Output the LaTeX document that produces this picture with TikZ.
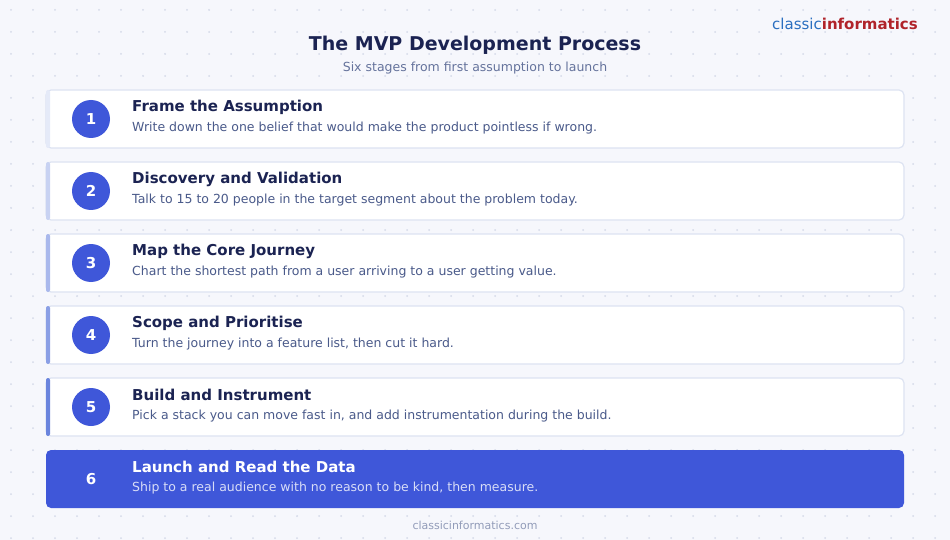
\documentclass[tikz,border=0pt]{standalone}
\usepackage{fontspec}
\setmainfont{DejaVu Sans}
\begin{document}
\begin{tikzpicture}[x=1pt,y=-1pt,
  card/.style={draw=bordc,line width=1.2pt,fill=white,rounded corners=5pt},
  num/.style={circle,fill=accent,minimum size=38pt,inner sep=0pt,text=white,font=\bfseries\fontsize{15}{15}\selectfont},
  ttl/.style={anchor=west,inner sep=0pt,text=navy,font=\bfseries\fontsize{15}{15}\selectfont},
  dsc/.style={anchor=west,inner sep=0pt,text=descc,font=\fontsize{12.5}{13}\selectfont}]
\definecolor{bg}{HTML}{F6F7FC}
\definecolor{bordc}{HTML}{DDE3F2}
\definecolor{accent}{HTML}{3F57D9}
\definecolor{navy}{HTML}{1B2352}
\definecolor{descc}{HTML}{4A5A8A}
\definecolor{dotc}{HTML}{D5DAE8}
\definecolor{ciblue}{HTML}{2A6FC0}
\definecolor{cired}{HTML}{B0232A}
\definecolor{aA}{HTML}{E5EAF8}
\definecolor{aB}{HTML}{C8D2F2}
\definecolor{aC}{HTML}{A9B8EC}
\definecolor{aD}{HTML}{8A9FE5}
\definecolor{aE}{HTML}{6A84DD}
\fill[bg] (0,0) rectangle (950,540);
\useasboundingbox (0,0) rectangle (950,540);
\foreach \i in {0,...,43}{\foreach \j in {0,...,24}{\fill[dotc] (11+22*\i,10+22*\j) circle (1pt);}}
\node (logo) at (845,24) {\fontsize{15}{15}\selectfont\textcolor{ciblue}{classic}\textcolor{cired}{\bfseries informatics}};
\node (title) at (475,45) {\color{navy}\bfseries\fontsize{19}{19}\selectfont The MVP Development Process};
\node (sub) at (475,68) {\color{descc!85}\fontsize{12.5}{13}\selectfont Six stages from first assumption to launch};
\foreach \k/\c/\t/\d in {
 1/aA/Frame the Assumption/Write down the one belief that would make the product pointless if wrong.,
 2/aB/Discovery and Validation/Talk to 15 to 20 people in the target segment about the problem today.,
 3/aC/Map the Core Journey/Chart the shortest path from a user arriving to a user getting value.,
 4/aD/Scope and Prioritise/{Turn the journey into a feature list, then cut it hard.},
 5/aE/Build and Instrument/{Pick a stack you can move fast in, and add instrumentation during the build.}}{
 \pgfmathsetmacro\yy{90+72*(\k-1)}
 \draw[card] (46,\yy) rectangle (904,\yy+58);
 \fill[\c,rounded corners=2pt] (46,\yy) rectangle (50,\yy+58);
 \node[num] (n\k) at (91,\yy+29) {\k};
 \node[ttl] (t\k) at (132,\yy+17) {\t};
 \node[dsc] (d\k) at (132,\yy+38) {\d};
}
\fill[accent,rounded corners=5pt] (46,450) rectangle (904,508);
\node[num] (n6) at (91,479) {6};
\node[ttl,text=white] (t6) at (132,467) {Launch and Read the Data};
\node[dsc,text=white!80!accent] (d6) at (132,488) {Ship to a real audience with no reason to be kind, then measure.};
\node (foot) at (475,525) {\color{descc!60}\fontsize{11}{11}\selectfont classicinformatics.com};
\end{tikzpicture}
\end{document}
